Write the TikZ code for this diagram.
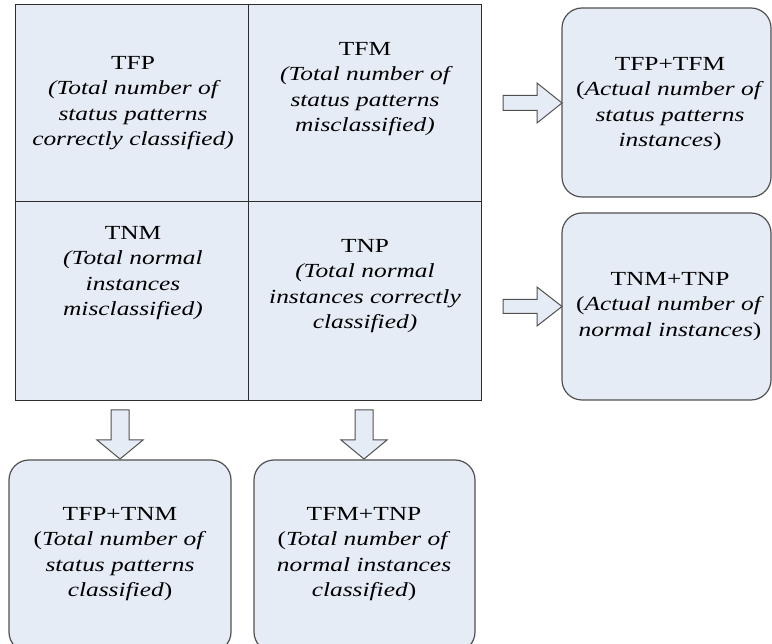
\documentclass[tikz,border=0pt]{standalone}
\usepackage{fontspec}
\setmainfont{Liberation Serif}[FakeStretch=1.27]
\definecolor{cellfill}{RGB}{230,236,246}
\definecolor{gridline}{RGB}{45,45,45}
\definecolor{boxline}{RGB}{80,80,80}
\begin{document}
\begin{tikzpicture}[x=1pt,y=-1pt,
  cell/.style={draw=gridline, line width=1.4pt, fill=cellfill, inner sep=0pt,
    minimum width=233pt, minimum height=197pt, anchor=north west},
  rbox/.style={draw=boxline, line width=1.2pt, fill=cellfill, rounded corners=20pt},
  txt/.style={anchor=north, inner sep=0pt, align=center,
    font=\fontsize{20}{25.5}\selectfont},
  blockarrow/.style={draw=boxline, line width=1pt, fill=cellfill, line join=miter}]
\useasboundingbox (0,0) rectangle (772,644);
\clip (0,0) rectangle (772,644);

% confusion matrix cells
\node[cell] (tfp) at (15,4) {};
\node[cell] (tfm) at (248,4) {};
\node[cell, minimum height=199pt] (tnm) at (15,201) {};
\node[cell, minimum height=199pt] (tnp) at (248,201) {};

\node[txt] at (133,56) {TFP\\\itshape(Total number of\\\itshape status patterns\\\itshape correctly classified)};
\node[txt] at (365,42) {TFM\\\itshape(Total number of\\\itshape status patterns\\\itshape misclassified)};
\node[txt] at (133,226) {TNM\\\itshape(Total normal\\\itshape instances\\\itshape misclassified)};
\node[txt] at (365,239) {TNP\\\itshape(Total normal\\\itshape instances correctly\\\itshape classified)};

% row and column totals
\path[rbox] (562,8) rectangle (771,197);
\coordinate (rowA) at (562,103);
\path[rbox] (562,213) rectangle (771,400);
\coordinate (rowB) at (562,306.5);
\path[rbox] (9,460) rectangle (231,652);
\coordinate (colA) at (120,459);
\path[rbox] (254,460) rectangle (475,652);
\coordinate (colB) at (364,459);

\node[txt] at (670,57) {TFP+TFM\\(\textit{Actual number of}\\\textit{status patterns}\\\textit{instances})};
\node[txt] at (670,272) {TNM+TNP\\(\textit{Actual number of}\\\textit{normal instances})};
\node[txt] at (120,507) {TFP+TNM\\(\textit{Total number of}\\\textit{status patterns}\\\textit{classified})};
\node[txt] at (364,507) {TFM+TNP\\(\textit{Total number of}\\\textit{normal instances}\\\textit{classified})};

% block arrows from the matrix to the totals
\draw[blockarrow] (rowA) -- ++(-25,-20) -- ++(0,12.5) -- ++(-34,0) -- ++(0,15) -- ++(34,0) -- ++(0,12.5) -- cycle;
\draw[blockarrow] (rowB) -- ++(-25,-19.5) -- ++(0,12.5) -- ++(-34,0) -- ++(0,14) -- ++(34,0) -- ++(0,12.5) -- cycle;
\draw[blockarrow] (colA) -- ++(-23,-19) -- ++(14,0) -- ++(0,-30) -- ++(18,0) -- ++(0,30) -- ++(14,0) -- cycle;
\draw[blockarrow] (colB) -- ++(-23,-19) -- ++(14,0) -- ++(0,-30) -- ++(18,0) -- ++(0,30) -- ++(14,0) -- cycle;
\end{tikzpicture}
\end{document}
